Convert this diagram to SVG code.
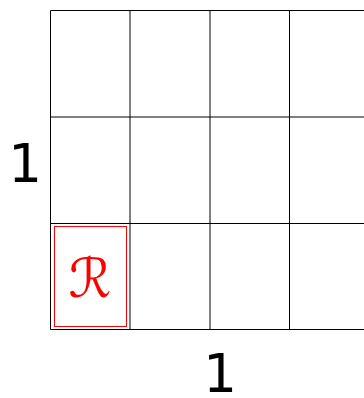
<svg xmlns="http://www.w3.org/2000/svg" width="364" height="398" viewBox="0 0 364 398">
<style>
.g{stroke:#000;stroke-width:1;fill:none}
.lbl{font-family:"DejaVu Sans",sans-serif;font-size:53px;fill:#000;text-anchor:middle}
</style>
<rect width="364" height="398" fill="#fff"/>
<g id="grid" class="g">
<line x1="50.5" y1="10.5" x2="364" y2="10.5"/>
<line x1="50.5" y1="117" x2="364" y2="117"/>
<line x1="50.5" y1="223.5" x2="364" y2="223.5"/>
<line x1="50.5" y1="329.5" x2="364" y2="329.5"/>
<line x1="50.5" y1="10.5" x2="50.5" y2="329.5"/>
<line x1="130" y1="10.5" x2="130" y2="329.5"/>
<line x1="210" y1="10.5" x2="210" y2="329.5"/>
<line x1="289.5" y1="10.5" x2="289.5" y2="329.5"/>
</g>
<g id="region">
<rect x="54.5" y="226.5" width="72" height="100" fill="none" stroke="#f00" stroke-width="1"/>
<text x="90" y="297" font-family="DejaVu Sans, sans-serif" font-size="54" font-style="italic" fill="#f00" text-anchor="middle">ℛ</text>
</g>
<text class="lbl" x="25" y="182">1</text>
<text class="lbl" x="220" y="392">1</text>
</svg>
